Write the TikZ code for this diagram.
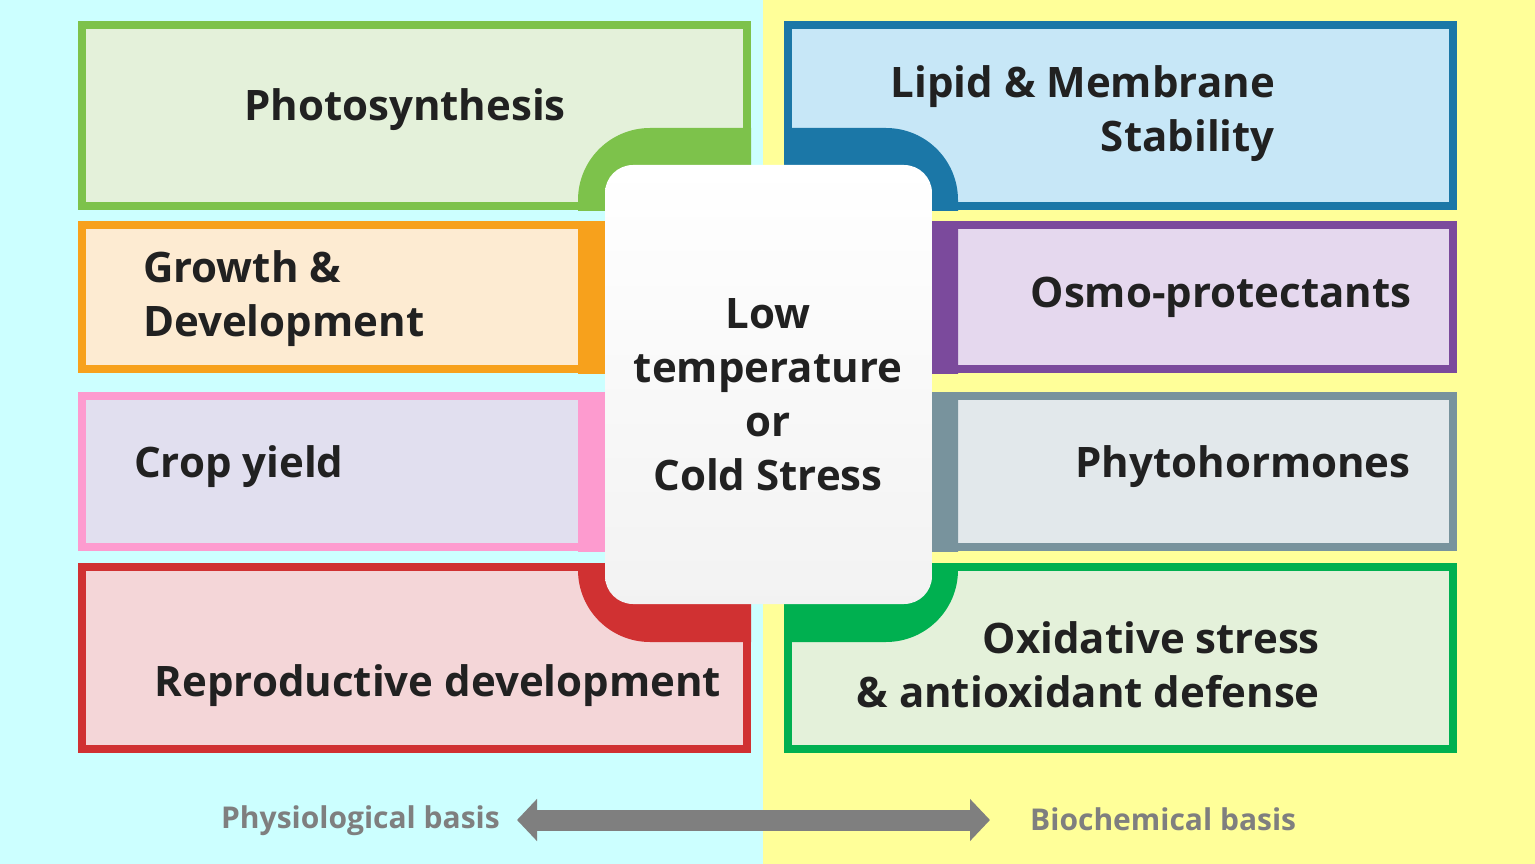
\documentclass[tikz,border=0pt]{standalone}
\usepackage{fontspec}
\setmainfont{Open Sans}
\usetikzlibrary{arrows.meta}
\definecolor{bgL}{HTML}{CCFFFF}
\definecolor{bgR}{HTML}{FFFF99}
\definecolor{grnB}{HTML}{7DC24B}\definecolor{grnF}{HTML}{E4F1DA}
\definecolor{bluB}{HTML}{1B77A7}\definecolor{bluF}{HTML}{C7E7F7}
\definecolor{orgB}{HTML}{F7A11C}\definecolor{orgF}{HTML}{FDEBD2}
\definecolor{purB}{HTML}{7B4A9C}\definecolor{purF}{HTML}{E5D8EE}
\definecolor{pnkB}{HTML}{FD9BCF}\definecolor{pnkF}{HTML}{E1DFEF}
\definecolor{slaB}{HTML}{78939D}\definecolor{slaF}{HTML}{E2E8EB}
\definecolor{redB}{HTML}{D03132}\definecolor{redF}{HTML}{F4D6D8}
\definecolor{gr2B}{HTML}{00B050}\definecolor{gr2F}{HTML}{E4F1DA}
\definecolor{txt}{HTML}{212121}
\definecolor{basis}{HTML}{7F7F7F}
\newcommand\qbox[6]{%
  \fill[#5] (#1,#2) rectangle (#3,#4);
  \fill[#6] (#1+8,#2+8) rectangle (#3-8,#4-8);
  \begin{scope}
    \clip (#1,#2) rectangle (#3,#4);
    \fill[#5, rounded corners=72pt] (578,128) rectangle (958,642);
  \end{scope}}
\tikzset{
  lbl/.style={inner sep=0pt, text=txt, font=\bfseries\fontsize{42}{54}\selectfont},
  basislbl/.style={inner sep=0pt, text=basis, font=\bfseries\fontsize{30}{36}\selectfont},
}
\begin{document}
\begin{tikzpicture}[x=1pt,y=-1pt]
\useasboundingbox (0,0) rectangle (1535,864);
\fill[bgL] (0,0) rectangle (763,864);
\fill[bgR] (763,0) rectangle (1535,864);
% left column
\qbox{78}{21}{751}{210}{grnB}{grnF}
\qbox{78}{221}{605}{373}{orgB}{orgF}
\qbox{78}{392}{605}{551}{pnkB}{pnkF}
\qbox{78}{563}{751}{753}{redB}{redF}
% right column
\qbox{784}{21}{1457}{210}{bluB}{bluF}
\qbox{932}{221}{1457}{373}{purB}{purF}
\qbox{932}{392}{1457}{551}{slaB}{slaF}
\qbox{784}{563}{1457}{753}{gr2B}{gr2F}
% centre box
\node (centre) [rounded corners=28pt, minimum width=327pt, minimum height=439pt,
  inner sep=0pt, top color=white, bottom color=black!5] at (768.5,384.5) {};
\node (ctext) [lbl, align=center] at (768,395) {Low\\temperature\\or\\Cold Stress};
% labels
\node (photo) [lbl] at (405,110) {Photosynthesis};
\node (lipid) [lbl, align=right, anchor=east] at (1275,114) {Lipid \& Membrane\\Stability};
\node (growth) [lbl, align=left, anchor=west] at (143,299) {Growth \&\\Development};
\node (osmo) [lbl] at (1221,297) {Osmo-protectants};
\node (crop) [lbl, anchor=west] at (134,467) {Crop yield};
\node (phyto) [lbl] at (1243,467) {Phytohormones};
\node (repro) [lbl] at (438,686) {Reproductive development};
\node (oxid) [lbl, align=right, anchor=east] at (1320,665) {Oxidative stress\\\& antioxidant defense};
% basis arrow
\node (phys) [basislbl, anchor=east] at (500,821) {Physiological basis};
\node (bioc) [basislbl, anchor=west] at (1030,819) {Biochemical basis};
\coordinate (aL) at (517,820);
\coordinate (aR) at (990,820);
\draw[basis, line width=21pt, {Triangle[length=20pt,width=41pt]}-{Triangle[length=20pt,width=41pt]}] (aL) -- (aR);
\end{tikzpicture}
\end{document}
